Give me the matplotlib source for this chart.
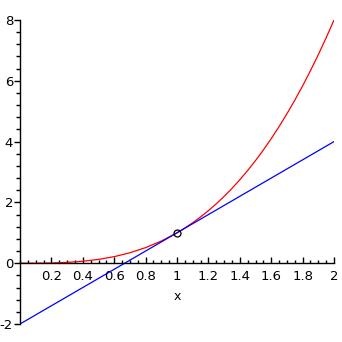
import matplotlib
matplotlib.use("Agg")
import matplotlib.pyplot as plt
from matplotlib.ticker import MultipleLocator

# red curve, values
curve_x = [0.0, 0.1, 0.2, 0.3, 0.4, 0.5, 0.6, 0.7, 0.8, 0.9, 1.0,
           1.05, 1.1, 1.15, 1.2, 1.25, 1.3, 1.35, 1.4, 1.45, 1.5,
           1.55, 1.6, 1.65, 1.7, 1.75, 1.8, 1.85, 1.9, 1.95, 2.0]
curve_y = [0.0, 0.001, 0.008, 0.027, 0.064, 0.125, 0.216, 0.343, 0.512, 0.729, 1.0,
           1.158, 1.331, 1.521, 1.728, 1.953, 2.197, 2.460, 2.744, 3.049, 3.375,
           3.724, 4.096, 4.492, 4.913, 5.359, 5.832, 6.332, 6.859, 7.415, 8.0]

# blue line, end points
line_x = [0.0, 2.0]
line_y = [-2.0, 4.0]

# marked point
pt_x = [1.0]
pt_y = [1.0]

x_ticks = [0.2, 0.4, 0.6, 0.8, 1, 1.2, 1.4, 1.6, 1.8, 2]
x_labels = ['0.2', '0.4', '0.6', '0.8', '1', '1.2', '1.4', '1.6', '1.8', '2']
y_ticks = [-2, 0, 2, 4, 6, 8]
y_labels = ['-2', '0', '2', '4', '6', '8']

fig = plt.figure(figsize=(3.42, 3.42), dpi=100)
ax = fig.add_axes([20 / 342, 18 / 342, 314 / 342, 304 / 342])

ax.plot(curve_x, curve_y, color='red', linewidth=0.9)
ax.plot(line_x, line_y, color='blue', linewidth=0.9)
ax.plot(pt_x, pt_y, marker='o', markersize=5, markerfacecolor='none',
        markeredgecolor='black', markeredgewidth=0.9, linestyle='none')

ax.set_xlim(0, 2)
ax.set_ylim(-2, 8)

ax.spines['left'].set_position(('data', 0))
ax.spines['bottom'].set_position(('data', 0))
ax.spines['top'].set_visible(False)
ax.spines['right'].set_visible(False)
for s in ('left', 'bottom'):
    ax.spines[s].set_linewidth(1.0)

ax.set_xticks(x_ticks)
ax.set_xticklabels(x_labels, fontsize=9.5)
ax.set_yticks(y_ticks)
ax.set_yticklabels(y_labels, fontsize=9.5)
ax.xaxis.set_minor_locator(MultipleLocator(0.05))
ax.yaxis.set_minor_locator(MultipleLocator(0.4))

ax.tick_params(axis='x', which='major', direction='in', length=4, width=1, pad=5)
ax.tick_params(axis='x', which='minor', direction='in', length=2, width=1)
ax.tick_params(axis='y', which='major', direction='out', length=4, width=1, pad=1)
ax.tick_params(axis='y', which='minor', direction='out', length=3, width=1)

ax.text(1.0, -1.1, 'x', fontsize=9, ha='center', va='center')

fig.savefig('out.png', dpi=100)
